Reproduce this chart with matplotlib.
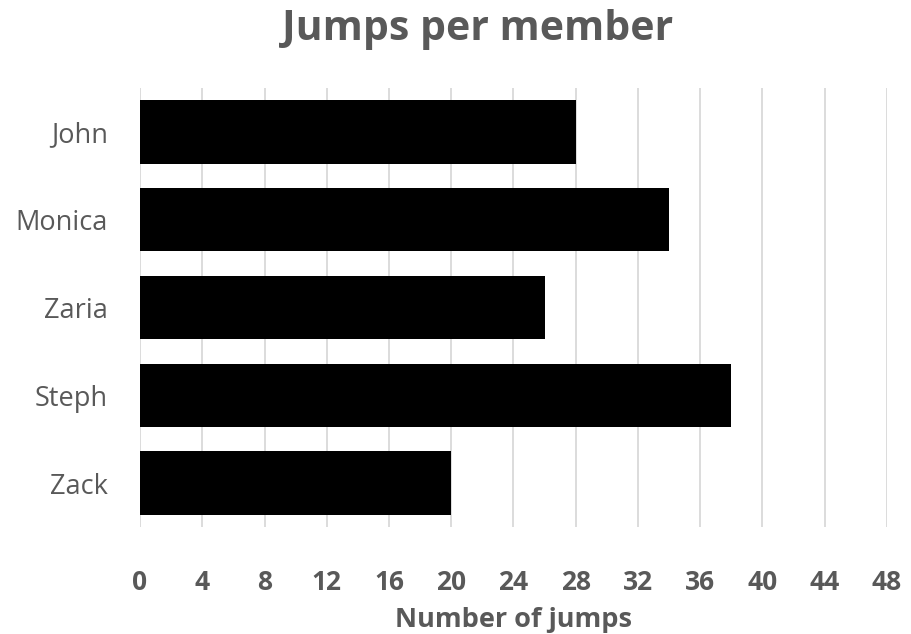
import matplotlib.pyplot as plt
import numpy as np

plt.rcParams['font.family'] = ['Open Sans', 'DejaVu Sans']

members = ["John", "Monica", "Zaria", "Steph", "Zack"]
jumps = [28, 34, 26, 38, 20]
x_ticks = list(range(0, 49, 4))

text_color = "#595959"
grid_color = "#d9d9d9"

fig = plt.figure(figsize=(9.12, 6.34), dpi=100)
ax = fig.add_axes([140 / 912, 1 - 527 / 634, 747 / 912, 439 / 634])

y = np.arange(len(members))
ax.barh(y, jumps, height=0.72, color="black", zorder=3)

ax.set_xlim(0, 48)
ax.set_ylim(len(members) - 0.5, -0.5)
ax.set_xticks(x_ticks)
ax.set_yticks(y)
ax.set_yticklabels(members)

ax.grid(axis="x", color=grid_color, linewidth=1.3, zorder=0)
for s in ax.spines.values():
    s.set_visible(False)
ax.tick_params(axis="both", length=0, colors=text_color)
ax.tick_params(axis="y", labelsize=19.5, pad=23)
ax.tick_params(axis="x", labelsize=19, pad=30)
for lbl in ax.get_xticklabels():
    lbl.set_fontweight("bold")

ax.set_xlabel("Number of jumps", fontsize=19.5, fontweight="bold", color=text_color, labelpad=8)
fig.suptitle("Jumps per member", x=478 / 912, y=1 - 30 / 634, va="center",
             fontsize=29.5, fontweight="bold", color=text_color)

fig.savefig("out.png", dpi=100)
